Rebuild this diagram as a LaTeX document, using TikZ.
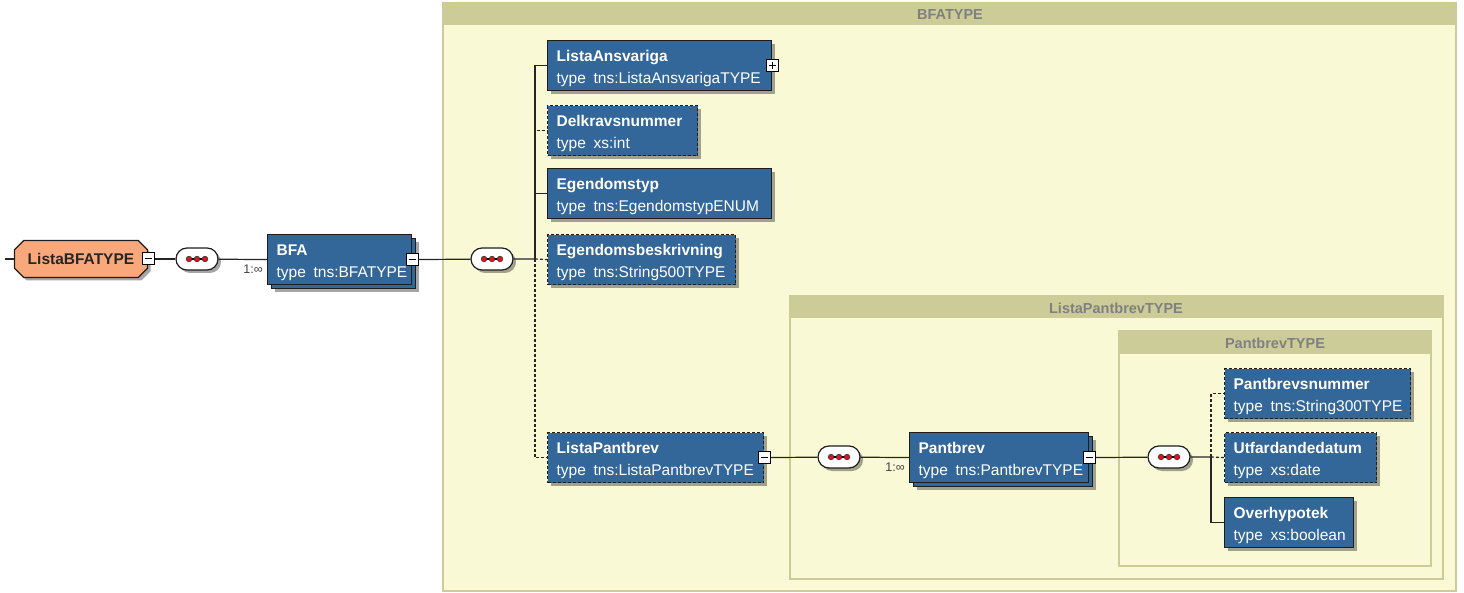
\documentclass[tikz,border=0pt]{standalone}
\usepackage{fontspec}
\setmainfont{Liberation Sans}
\usetikzlibrary{shapes.misc,shadows}

\definecolor{elemblue}{HTML}{336699}
\definecolor{elemline}{HTML}{1E1E1E}
\definecolor{rootorange}{HTML}{F9A87B}
\definecolor{hdrkhaki}{HTML}{CCCC99}
\definecolor{bodyyellow}{HTML}{F9F9D6}
\definecolor{titlegray}{HTML}{808080}
\definecolor{dotred}{HTML}{E8101A}

\tikzset{
  elem/.style={draw=elemline, fill=elemblue, text=white, anchor=north west, align=left,
    inner xsep=9pt, inner ysep=0pt, minimum height=50pt, line width=1.2pt,
    font=\fontsize{15.5}{22}\selectfont, execute at begin node=\rule{0pt}{17pt}},
  shad/.style={drop shadow={shadow xshift=3pt, shadow yshift=-3pt, fill=black, opacity=.35}},
  stack/.style={drop shadow={shadow xshift=7pt, shadow yshift=-7pt, fill=black, opacity=.35},
    copy shadow={shadow xshift=4pt, shadow yshift=-4pt}},
  opt/.style={dash pattern=on 3pt off 2pt},
  root/.style={chamfered rectangle, chamfered rectangle xsep=6pt, draw=elemline, fill=rootorange,
    minimum width=133pt, minimum height=37pt, inner sep=0pt, line width=1.2pt, shad,
    font=\bfseries\fontsize{15.5}{15.5}\selectfont, text=black!85},
  seq/.style={rounded rectangle, draw=elemline, fill=white, minimum width=42pt,
    minimum height=22pt, inner sep=0pt, line width=1.2pt, shad},
  tog/.style={draw=black, fill=white, minimum size=12pt, inner sep=0pt, line width=1pt},
  minus/.style={tog, path picture={
    \draw[line width=1pt] ([xshift=2.5pt]path picture bounding box.west)
      -- ([xshift=-2.5pt]path picture bounding box.east);}},
  plus/.style={tog, path picture={
    \draw[line width=1pt] ([xshift=2.5pt]path picture bounding box.west)
      -- ([xshift=-2.5pt]path picture bounding box.east);
    \draw[line width=1pt] ([yshift=-2.5pt]path picture bounding box.north)
      -- ([yshift=2.5pt]path picture bounding box.south);}},
  conn/.style={draw=black!85, line width=1.2pt},
  mult/.style={anchor=east, inner sep=1pt, text=black!75, font=\fontsize{12.5}{12.5}\selectfont},
  frame/.style={draw=hdrkhaki, line width=2pt, fill=bodyyellow},
  hdrtitle/.style={text=titlegray, font=\bfseries\fontsize{14.5}{14.5}\selectfont}
}

\begin{document}
\begin{tikzpicture}[x=1pt, y=-1pt]
\useasboundingbox (0,0) rectangle (1464,593);

% type frames
\draw[frame] (443,3) rectangle (1456,591);
\fill[hdrkhaki] (443,3) rectangle (1456,25);
\node[hdrtitle] (bfatype) at (950,15) {BFATYPE};

\draw[frame] (790,296) rectangle (1443,579);
\fill[hdrkhaki] (790,296) rectangle (1443,318);
\node[hdrtitle] (lpbtype) at (1116,308) {ListaPantbrevTYPE};

\draw[frame] (1119,331) rectangle (1431,566);
\fill[hdrkhaki] (1119,331) rectangle (1431,354);
\node[hdrtitle] (pbtype) at (1275,343) {PantbrevTYPE};

% root and first level
\coordinate (in) at (5,259);
\node[root] (lista) at (81,259) {ListaBFATYPE};
\node[minus] (listam) at (lista.east) {};
\node[seq] (seq1) at (197,259) {};
\node[elem, stack, text width=126pt] (bfa) at (267,234) {\textbf{BFA}\\type\enspace tns:BFATYPE};
\node[minus] (bfam) at (bfa.east) {};
\node[mult] (bfamult) at (264,269) {1:∞};
\node[seq] (seq2) at (492,259) {};

% children of BFA
\node[elem, shad, text width=206pt] (ansv) at (547,40) {\textbf{ListaAnsvariga}\\type\enspace tns:ListaAnsvarigaTYPE};
\node[plus] (ansvp) at (ansv.east) {};
\node[elem, shad, opt, text width=132pt] (delk) at (547,105) {\textbf{Delkravsnummer}\\type\enspace xs:int};
\node[elem, shad, text width=206pt] (egtyp) at (547,168) {\textbf{Egendomstyp}\\type\enspace tns:EgendomstypENUM};
\node[elem, shad, opt, text width=170pt] (egbes) at (547,234) {\textbf{Egendomsbeskrivning}\\type\enspace tns:String500TYPE};
\node[elem, shad, opt, text width=198pt] (lpb) at (547,432) {\textbf{ListaPantbrev}\\type\enspace tns:ListaPantbrevTYPE};
\node[minus] (lpbm) at (lpb.east) {};

% Pantbrev
\node[seq] (seq3) at (839,457) {};
\node[elem, stack, text width=161pt] (pb) at (909,432) {\textbf{Pantbrev}\\type\enspace tns:PantbrevTYPE};
\node[minus] (pbm) at (pb.east) {};
\node[mult] (pbmult) at (906,467) {1:∞};
\node[seq] (seq4) at (1169,457) {};

\node[elem, shad, opt, text width=168pt] (pbnr) at (1224,368) {\textbf{Pantbrevsnummer}\\type\enspace tns:String300TYPE};
\node[elem, shad, opt, text width=134pt] (utf) at (1224,432) {\textbf{Utfardandedatum}\\type\enspace xs:date};
\node[elem, shad, text width=111pt] (over) at (1224,497) {\textbf{Overhypotek}\\type\enspace xs:boolean};

% sequence dots
\foreach \s in {seq1,seq2,seq3,seq4} {
  \draw[line width=1.2pt] ([xshift=-8pt]\s.center) -- ([xshift=8pt]\s.center);
  \foreach \d in {-8,0,8}
    \filldraw[fill=dotred, draw=black!80, line width=.6pt] ([xshift=\d pt]\s.center) circle (2.8pt);
}

% connectors
\draw[conn] (in) -- (lista.west);
\draw[conn] (listam) -- (seq1);
\draw[conn] (seq1) -- (bfa.west);
\draw[conn] (bfam) -- (seq2);

\coordinate (bus1) at (535,259);
\draw[conn] (seq2) -- (bus1);
\draw[conn, opt] (bus1) |- (delk.west);
\draw[conn, opt] (bus1) -- (egbes.west);
\draw[conn, opt] (bus1) |- (lpb.west);
\draw[conn] (bus1) |- (ansv.west);
\draw[conn] (bus1) |- (egtyp.west);

\draw[conn] (lpbm) -- (seq3);
\draw[conn] (seq3) -- (pb.west);
\draw[conn] (pbm) -- (seq4);

\coordinate (bus2) at (1211,457);
\draw[conn] (seq4) -- (bus2);
\draw[conn, opt] (bus2) |- (pbnr.west);
\draw[conn, opt] (bus2) -- (utf.west);
\draw[conn] (bus2) |- (over.west);

\end{tikzpicture}
\end{document}
